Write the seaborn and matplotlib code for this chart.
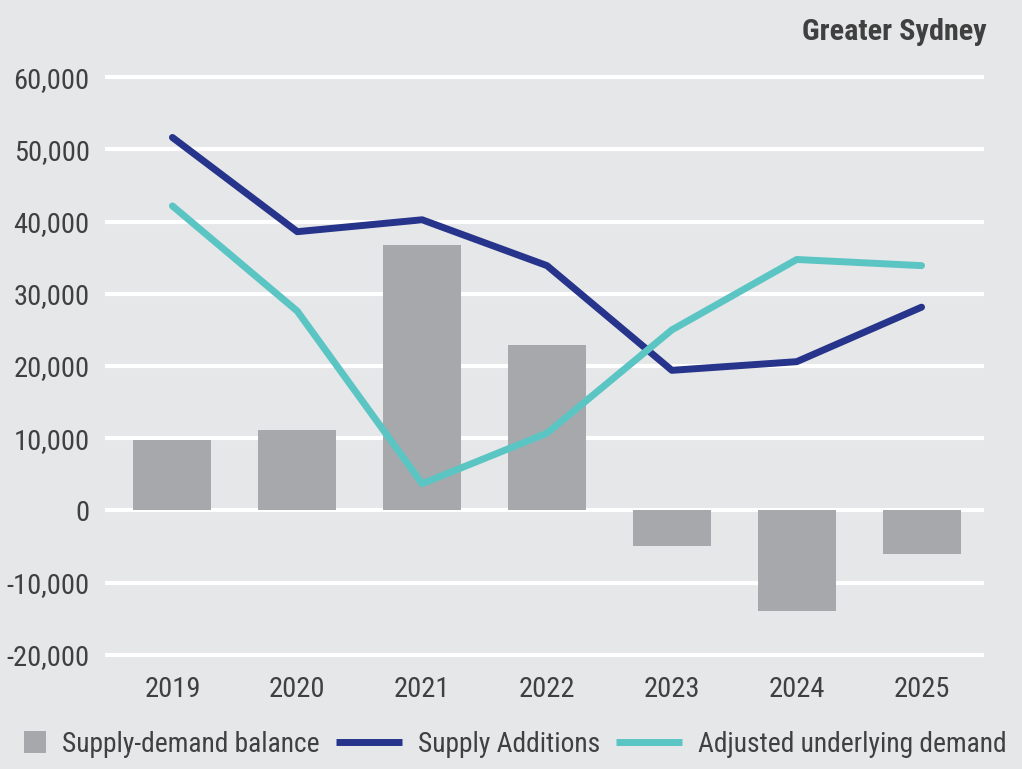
import matplotlib
matplotlib.use("Agg")
import matplotlib.pyplot as plt
from matplotlib.lines import Line2D
from matplotlib.patches import Rectangle
from matplotlib.legend_handler import HandlerPatch
from matplotlib.ticker import FuncFormatter
from matplotlib import font_manager
import seaborn as sns
import pandas as pd

years = [2019, 2020, 2021, 2022, 2023, 2024, 2025]
balance = [9750, 11100, 36700, 22900, -4950, -13900, -6050]
supply = [51650, 38600, 40250, 33900, 19400, 20600, 28150]
demand = [42170, 27600, 3700, 10700, 25000, 34750, 33900]
yticks = [-20000, -10000, 0, 10000, 20000, 30000, 40000, 50000, 60000]

BG = "#e6e7e9"
BAR = "#a7a8ab"
NAVY = "#27348b"
TEAL = "#5bc5c4"
TXT = "#404040"

sns.set_theme(style="white")
avail = {f.name for f in font_manager.fontManager.ttflist}
cands = ["Liberation Sans Narrow", "Roboto Condensed", "DejaVu Sans Condensed",
         "Open Sans Condensed", "Noto Sans Condensed", "Roboto", "DejaVu Sans"]
chosen = [c for c in cands if c in avail]
FONT = chosen[0] if chosen else "DejaVu Sans"
narrow = FONT in ("Liberation Sans Narrow", "Roboto Condensed", "DejaVu Sans Condensed",
                  "Open Sans Condensed", "Noto Sans Condensed")
plt.rcParams["font.family"] = [FONT, "DejaVu Sans"]
FS = 20.5 if narrow else 17
LFS = FS * 0.965
PX = 100 / 72  # px per pt

df = pd.DataFrame({"year": years, "balance": balance, "supply": supply, "demand": demand})

fig = plt.figure(figsize=(10.22, 7.69), dpi=100, facecolor=BG)
ax = fig.add_axes([105 / 1022, 1 - 657 / 769, (984 - 105) / 1022, (657 - 75) / 769])
ax.set_facecolor(BG)

for t in yticks:
    ax.axhline(t, color="white", lw=3, zorder=1)

sns.barplot(data=df, x="year", y="balance", native_scale=True, width=0.625,
            color=BAR, saturation=1, ax=ax, zorder=2, linewidth=0)
sns.lineplot(data=df, x="year", y="supply", color=NAVY, lw=5, ax=ax, zorder=3,
             solid_capstyle="round")
sns.lineplot(data=df, x="year", y="demand", color=TEAL, lw=5, ax=ax, zorder=4,
             solid_capstyle="round")

ax.set_xlim(2018.46, 2025.5)
ax.set_ylim(-20300, 60300)
ax.set_xticks(years)
ax.set_xticklabels([str(y) for y in years])
ax.set_yticks(yticks)
ax.yaxis.set_major_formatter(FuncFormatter(lambda v, p: f"{v:,.0f}"))
ax.tick_params(axis="both", length=0, labelsize=FS, colors=TXT)
ax.tick_params(axis="y", pad=11)
ax.tick_params(axis="x", pad=14)
ax.set_xlabel("")
ax.set_ylabel("")
for s in ax.spines.values():
    s.set_visible(False)
ax.grid(False)

fig.text(987 / 1022, 1 - 40 / 769, "Greater Sydney", ha="right", va="baseline",
         fontsize=FS * 1.06, fontweight="bold", color=TXT)


def square(legend, orig_handle, xdescent, ydescent, width, height, fontsize):
    s = 22 / PX
    return Rectangle((-xdescent + width - s, -ydescent + height / 2 - s / 2), s, s)


h_bar = Rectangle((0, 0), 1, 1, facecolor=BAR, edgecolor="none")
h_sup = Line2D([], [], color=NAVY, lw=5, solid_capstyle="butt")
h_dem = Line2D([], [], color=TEAL, lw=5, solid_capstyle="butt")
leg = fig.legend([h_bar, h_sup, h_dem],
                 ["Supply-demand balance", "Supply Additions", "Adjusted underlying demand"],
                 loc="center left", bbox_to_anchor=(-20 / 1022, 1 - 744 / 769),
                 ncol=3, frameon=False, fontsize=LFS, handlelength=(66 / PX) / LFS,
                 handletextpad=16 / (LFS * PX), columnspacing=16 / (LFS * PX),
                 borderpad=0, borderaxespad=0,
                 handler_map={Rectangle: HandlerPatch(patch_func=square)})
for t in leg.get_texts():
    t.set_color(TXT)

fig.savefig("out.png", dpi=100, facecolor=BG)
